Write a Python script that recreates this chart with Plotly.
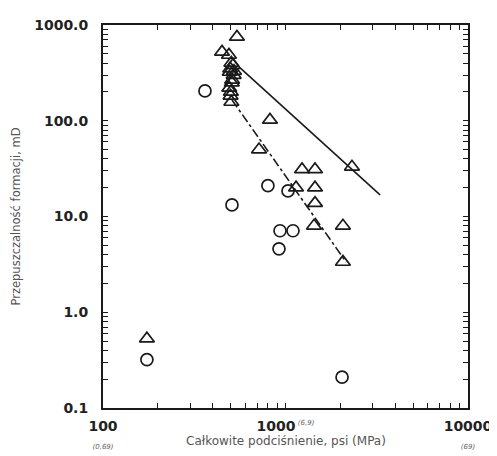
import plotly.graph_objects as go

# Data
tri_x = [542, 449, 490, 505, 495, 510, 492, 500, 505, 520, 515, 498, 508, 522, 502,
         822, 716, 1232, 1451, 2313, 1142, 1451, 1451, 1433, 2064, 2064, 174]
tri_y = [750, 523, 486, 401, 323, 267, 220, 182, 157, 300, 380, 350, 250, 330, 200,
         102, 50, 31, 31, 33, 20, 20, 13.8, 8.0, 8.0, 3.35, 0.53]

circ_x = [362, 509, 801, 1032, 933, 1099, 921, 174, 2041]
circ_y = [205, 13.2, 21, 18.5, 7.1, 7.1, 4.6, 0.32, 0.21]

solid_x = [564, 3297]
solid_y = [356, 16.8]

dashdot_x = [509, 2147]
dashdot_y = [165, 3.35]

sub = "<span style='font-size:7px;font-weight:normal;fill:#666'><i>%s</i></span>"
x_major = [100, 1000, 10000]
x_labels = ["<b>100</b><br>" + sub % "(0,69)",
            "<b>1000</b><sup>" + sub % " (6,9)" + "</sup>",
            "<b>10000</b><br>" + sub % "(69)"]
y_major = [0.1, 1, 10, 100, 1000]
y_labels = ["<b>0.1</b>", "<b>1.0</b>", "<b>10.0</b>", "<b>100.0</b>", "<b>1000.0</b>"]

def all_ticks(lo, hi, major, labels):
    vals, texts = [], []
    for d in range(lo, hi + 1):
        for k in range(1, 10):
            v = round(k * 10 ** d, 6)
            if d == hi and k > 1:
                break
            vals.append(v)
            texts.append("")
    for m, lab in zip(major, labels):
        i = min(range(len(vals)), key=lambda j: abs(vals[j] - m))
        texts[i] = lab
    return vals, texts

xv, xt = all_ticks(2, 4, x_major, x_labels)
yv, yt = all_ticks(-1, 3, y_major, y_labels)

ink = "#1a1a1a"
fig = go.Figure()
fig.add_trace(go.Scatter(x=solid_x, y=solid_y, mode="lines",
                         line=dict(color=ink, width=1.6), showlegend=False))
fig.add_trace(go.Scatter(x=dashdot_x, y=dashdot_y, mode="lines",
                         line=dict(color=ink, width=1.6, dash="dashdot"), showlegend=False))
fig.add_trace(go.Scatter(x=tri_x, y=tri_y, mode="markers",
                         marker=dict(symbol="triangle-up-open", size=13, color=ink,
                                     line=dict(width=1.7, color=ink)), showlegend=False))
fig.add_trace(go.Scatter(x=circ_x, y=circ_y, mode="markers",
                         marker=dict(symbol="circle-open", size=12, color=ink,
                                     line=dict(width=1.7, color=ink)), showlegend=False))

tickfont = dict(family="DejaVu Sans", size=14, color="#222")
# page body has an 8px margin: shift the figure so the plot lands where the reference has it
fig.update_layout(
    width=489, height=448, margin=dict(l=95, r=29, t=17, b=48, autoexpand=False),
    paper_bgcolor="white", plot_bgcolor="white", font=dict(family="DejaVu Sans"),
    xaxis=dict(type="log", range=[2, 4], tickvals=xv, ticktext=xt,
               tickfont=tickfont, showline=True, linecolor=ink, linewidth=2,
               mirror="allticks", ticks="inside", ticklen=5, tickwidth=1.2,
               tickcolor=ink, showgrid=False, zeroline=False, automargin=False,
               ticklabelstandoff=4),
    yaxis=dict(type="log", range=[-1, 3], tickvals=yv, ticktext=yt,
               tickfont=tickfont, showline=True, linecolor=ink, linewidth=2,
               mirror="allticks", ticks="inside", ticklen=5, tickwidth=1.2,
               tickcolor=ink, showgrid=False, zeroline=False, automargin=False,
               ticklabelstandoff=10),
)

fig.add_annotation(text="Całkowite podciśnienie, psi (MPa)", xref="paper", yref="paper",
                   x=0.5, y=0, xanchor="center", yanchor="top", yshift=-24,
                   showarrow=False, font=dict(family="DejaVu Sans", size=12, color="#555"))
fig.add_annotation(text="Przepuszczalność formacji, mD", xref="paper", yref="paper",
                   x=0, y=0.5, xanchor="center", yanchor="middle", xshift=-88,
                   textangle=-90, showarrow=False,
                   font=dict(family="DejaVu Sans", size=11.5, color="#555"))
fig.write_html("out.html")
